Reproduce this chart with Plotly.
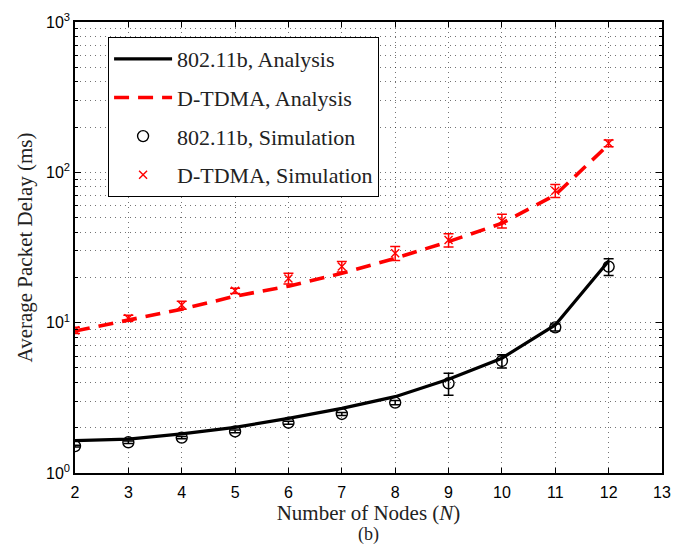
import plotly.graph_objects as go

# Number of nodes
nodes = [2, 3, 4, 5, 6, 7, 8, 9, 10, 11, 12]

# Average packet delay (ms), analytical model
dcf_analysis = [1.64, 1.68, 1.82, 2.01, 2.31, 2.69, 3.22, 4.20, 5.80, 9.66, 25.7]
tdma_analysis = [8.8, 10.4, 12.3, 15.0, 17.5, 21.3, 26.8, 34.6, 45.8, 70.7, 153.0]

# Average packet delay (ms), simulation with confidence intervals
dcf_sim = [1.51, 1.60, 1.72, 1.89, 2.16, 2.47, 2.94, 3.95, 5.56, 9.31, 23.6]
dcf_sim_err = [0.02, 0.03, 0.03, 0.04, 0.05, 0.06, 0.10, 0.66, 0.56, 0.5, 3.0]
tdma_sim = [8.9, 10.7, 13.1, 16.3, 19.7, 23.6, 29.0, 35.5, 47.7, 75.5, 156.0]
tdma_sim_err = [0.42, 0.5, 0.8, 0.65, 1.6, 1.9, 3.1, 3.6, 5.0, 7.5, 8.0]

x_ticks = list(range(2, 14))
y_major = [1, 10, 100, 1000]
y_labels = ["10<sup>0</sup>", "10<sup>1</sup>", "10<sup>2</sup>", "10<sup>3</sup>"]
y_minor = [m * d for d in (1, 10, 100) for m in range(2, 10)]

serif = "Liberation Serif, Times New Roman, serif"
sans = "Liberation Sans, Arial, sans-serif"

fig = go.Figure()
fig.add_trace(go.Scatter(
    x=nodes, y=dcf_analysis, mode="lines", name="802.11b, Analysis",
    line=dict(color="black", width=3.2), legendgroup="a"))
fig.add_trace(go.Scatter(
    x=nodes, y=tdma_analysis, mode="lines", name="D-TDMA, Analysis",
    line=dict(color="#ff0000", width=3.6, dash="15px,9px"), legendgroup="b"))
fig.add_trace(go.Scatter(
    x=nodes, y=dcf_sim, mode="markers", name="802.11b, Simulation",
    marker=dict(symbol="circle-open", size=11, color="black", line=dict(width=1.4)),
    error_y=dict(type="data", array=dcf_sim_err, color="black", thickness=1.5, width=5),
    legendgroup="c"))
fig.add_trace(go.Scatter(
    x=nodes, y=tdma_sim, mode="markers", name="D-TDMA, Simulation",
    marker=dict(symbol="x-thin-open", size=8, color="#ff0000", line=dict(width=1.4, color="#ff0000")),
    error_y=dict(type="data", array=tdma_sim_err, color="#ff0000", thickness=1.5, width=5),
    legendgroup="d"))

grid_style = dict(showgrid=True, gridcolor="rgba(0,0,0,0.55)", gridwidth=1, griddash="1px,4px")

fig.update_xaxes(
    range=[2, 13], tickvals=x_ticks, ticks="inside", ticklen=5, tickcolor="black",
    showline=True, linecolor="black", linewidth=1.5, mirror="allticks",
    tickfont=dict(family=sans, size=16, color="black"), zeroline=False,
    ticklabelstandoff=4,
    title=dict(text="Number of Nodes (<i>N</i>)", font=dict(family=serif, size=21, color="#222"),
               standoff=4),
    **grid_style)
fig.update_yaxes(
    type="log", range=[0, 3], tickvals=y_major, ticktext=y_labels, ticks="inside",
    ticklen=6, tickcolor="black", showline=True, linecolor="black", linewidth=1.5,
    mirror="allticks", tickfont=dict(family=sans, size=16, color="black"),
    title=dict(text="Average Packet Delay (ms)", font=dict(family=serif, size=21, color="#222"),
               standoff=8),
    minor=dict(tickvals=y_minor, ticks="inside", ticklen=3, tickcolor="black",
               showgrid=True, gridcolor="rgba(0,0,0,0.55)", gridwidth=1, griddash="1px,4px"),
    **grid_style)

fig.update_layout(
    width=688, height=548,
    margin=dict(l=75, r=26, t=22, b=75),
    plot_bgcolor="white", paper_bgcolor="white",
    showlegend=True,
    legend=dict(
        x=0.056, y=0.967, xanchor="left", yanchor="top",
        bgcolor="white", bordercolor="black", borderwidth=1.2,
        font=dict(family=serif, size=22, color="#222"),
        traceorder="grouped", tracegroupgap=7, itemwidth=58),
    annotations=[dict(text="(b)", x=0.5, xref="paper", y=-0.137, yref="paper",
                      yanchor="middle", showarrow=False,
                      font=dict(family=serif, size=18, color="#222"))],
)

fig.write_html("out.html")
